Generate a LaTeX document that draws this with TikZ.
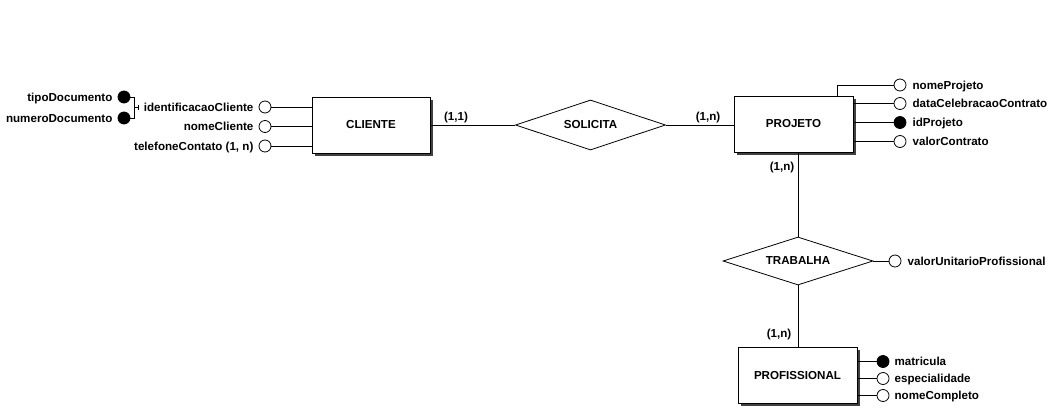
\documentclass[tikz,border=0pt]{standalone}
\usepackage{fontspec}
\setmainfont{Liberation Sans}
\usetikzlibrary{shapes.geometric,shadows}
\begin{document}
\begin{tikzpicture}[x=1pt,y=-1pt,
  every node/.style={font=\fontsize{11.6}{13}\selectfont\bfseries},
  entity/.style={draw, fill=white, line width=0.8pt, minimum width=118pt, minimum height=56pt, inner sep=0pt,
    drop shadow={shadow xshift=2.5pt, shadow yshift=-2.5pt, fill=black!75, opacity=1}},
  rel/.style={draw, diamond, aspect=3, line width=0.8pt, minimum width=150pt, minimum height=50pt, inner sep=0pt},
  attr/.style={draw, circle, line width=0.8pt, minimum size=12pt, inner sep=0pt, fill=white},
  keyattr/.style={attr, fill=black},
  atext/.style={inner sep=0pt, text height=8.4pt, text depth=0.4pt},
  card/.style={atext},
  conn/.style={line width=0.8pt}
]
\useasboundingbox[fill=white] (0,0) rectangle (1059,410);

% entities and relationships
\node[entity] (cliente) at (371,125) {CLIENTE};
\node[entity, minimum width=119pt] (projeto) at (793.5,124) {PROJETO};
\node[entity, minimum width=119pt] (prof) at (797.5,375.5) {PROFISSIONAL};
\node[rel] (sol) at (590.5,125) {SOLICITA};
\node[rel, minimum height=48pt] (trab) at (798,261) {TRABALHA};

\draw[conn] (sol.west -| cliente.east) -- (sol.west);
\draw[conn] (sol.east) -- (sol.east -| projeto.west);
\draw[conn] (trab.north) -- (trab.north |- projeto.south);
\draw[conn] (trab.south) -- (trab.south |- prof.north);

% cardinalities
\node[card] (c1) at (456,116) {(1,1)};
\node[card] (c2) at (708,116) {(1,n)};
\node[card] (c3) at (782,166.5) {(1,n)};
\node[card] (c4) at (779,333) {(1,n)};

% CLIENTE attributes
\node[attr] (idc) at (265,107) {};
\node[attr] (nc) at (265,126.5) {};
\node[attr] (tc) at (265,146) {};
\draw[conn] (idc.east) -- (idc.east -| cliente.west);
\draw[conn] (nc.east) -- (nc.east -| cliente.west);
\draw[conn] (tc.east) -- (tc.east -| cliente.west);
\node[atext, anchor=east] (tidc) at ([xshift=-5pt]idc.west) {identificacaoCliente};
\node[atext, anchor=east] (tnc) at ([xshift=-5pt]nc.west) {nomeCliente};
\node[atext, anchor=east] (ttc) at ([xshift=-5pt]tc.west) {telefoneContato (1, n)};

% composite attribute
\node[keyattr] (td) at (124,97) {};
\node[keyattr] (nd) at (124,118) {};
\node[atext, anchor=east] (ttd) at ([xshift=-5pt]td.west) {tipoDocumento};
\node[atext, anchor=east] (tnd) at ([xshift=-5pt]nd.west) {numeroDocumento};
\coordinate (bt) at (134,97);
\coordinate (bb) at (134,118);
\coordinate (bm) at (134,107.5);
\coordinate (bk) at (138.5,107.5);
\draw[conn] (td.east) -- (bt) -- (bb) -- (nd.east);
\draw[conn] (bm) -- (bk);
\draw[conn] ([yshift=-2.5pt]bk) -- ([yshift=2.5pt]bk);

% PROJETO attributes
\node[attr] (np) at (900,85) {};
\node[attr] (dc) at (900,103.5) {};
\node[keyattr] (ip) at (900,122.5) {};
\node[attr] (vc) at (900,141.5) {};
\coordinate (npk) at ([xshift=-16pt]projeto.north east);
\draw[conn] (np.west) -| (npk);
\draw[conn] (dc.west) -- (dc.west -| projeto.east);
\draw[conn] (ip.west) -- (ip.west -| projeto.east);
\draw[conn] (vc.west) -- (vc.west -| projeto.east);
\node[atext, anchor=west] (tnp) at ([xshift=6pt]np.east) {nomeProjeto};
\node[atext, anchor=west] (tdc) at ([xshift=6pt]dc.east) {dataCelebracaoContrato};
\node[atext, anchor=west] (tip) at ([xshift=6pt]ip.east) {idProjeto};
\node[atext, anchor=west] (tvc) at ([xshift=6pt]vc.east) {valorContrato};

% TRABALHA attribute
\node[attr] (vu) at (895,261) {};
\draw[conn] (trab.east) -- (vu.west);
\node[atext, anchor=west] (tvu) at ([xshift=6pt]vu.east) {valorUnitarioProfissional};

% PROFISSIONAL attributes
\node[keyattr] (ma) at (883,361.5) {};
\node[attr] (es) at (883,378.5) {};
\node[attr] (ncp) at (883,395.5) {};
\draw[conn] (ma.west) -- (ma.west -| prof.east);
\draw[conn] (es.west) -- (es.west -| prof.east);
\draw[conn] (ncp.west) -- (ncp.west -| prof.east);
\node[atext, anchor=west] (tma) at ([xshift=5pt]ma.east) {matricula};
\node[atext, anchor=west] (tes) at ([xshift=5pt]es.east) {especialidade};
\node[atext, anchor=west] (tncp) at ([xshift=5pt]ncp.east) {nomeCompleto};
\end{tikzpicture}
\end{document}
